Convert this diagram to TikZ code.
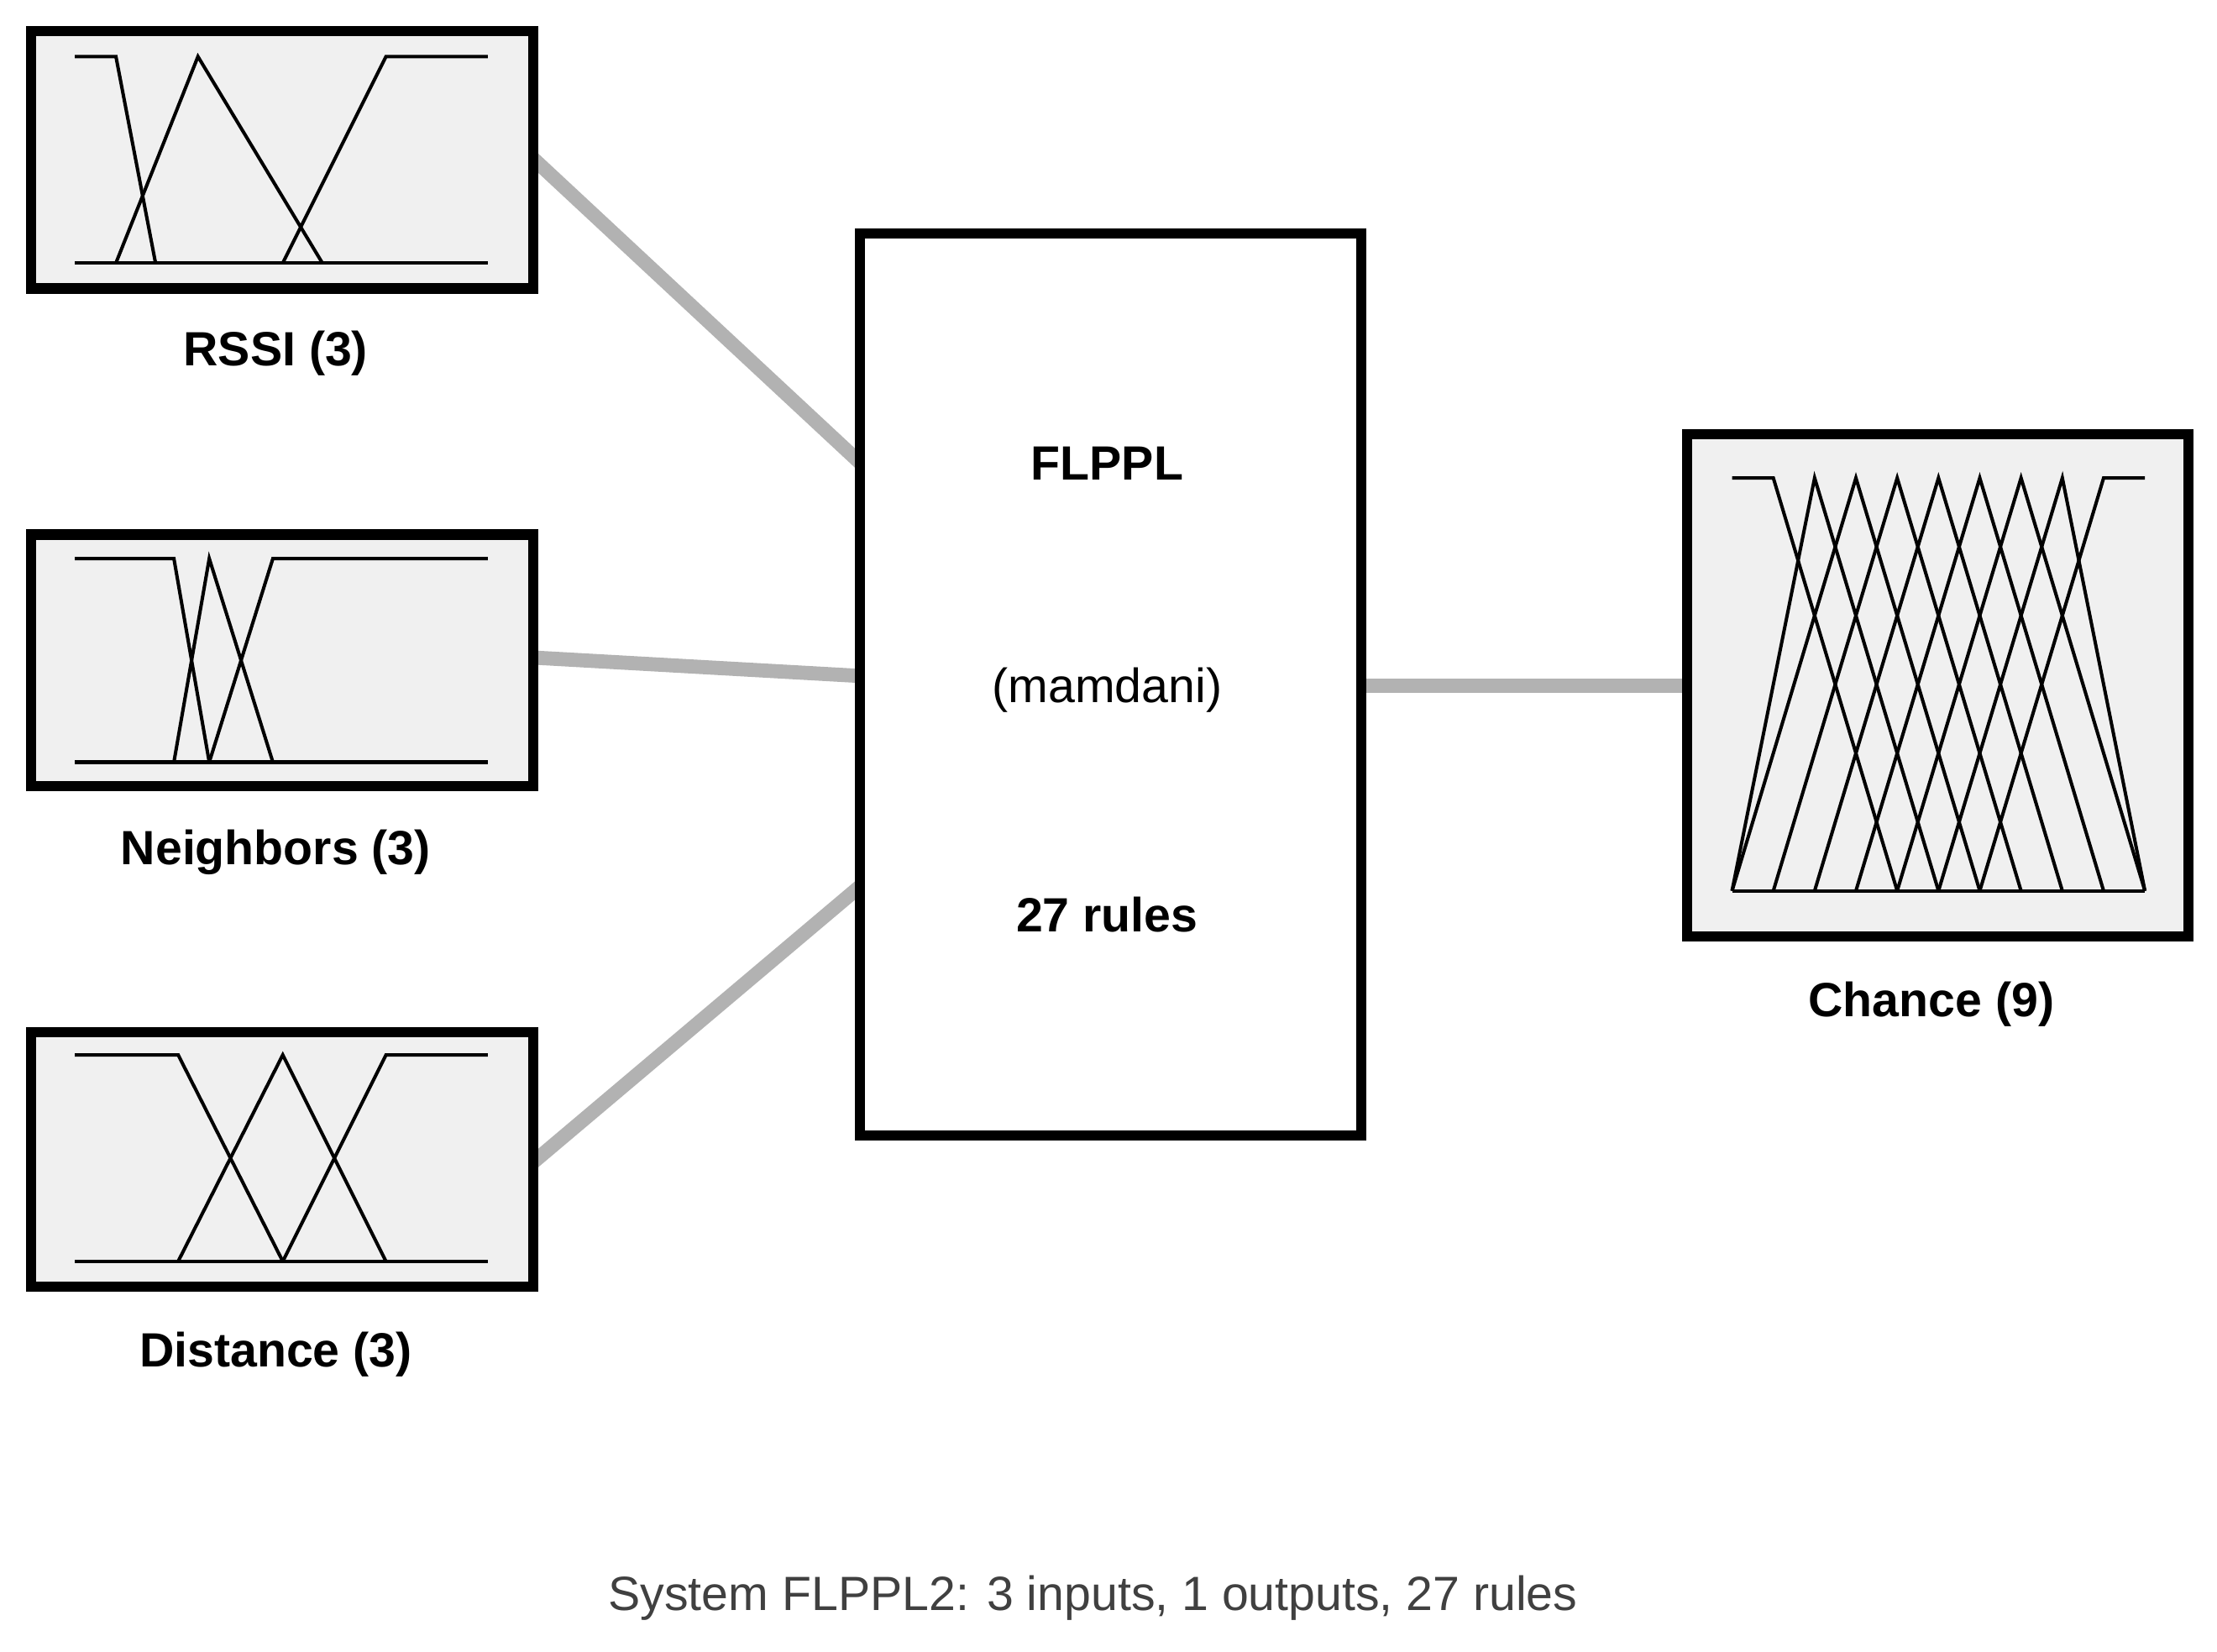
\documentclass[tikz,border=0pt]{standalone}
\usepackage{fontspec}
\setmainfont{Liberation Sans}
\begin{document}
\begin{tikzpicture}[x=0.5pt,y=-0.5pt,
  mfbox/.style={draw=black,line width=3.6pt,fill=black!6},
  sysbox/.style={draw=black,line width=3.6pt,fill=white},
  conn/.style={draw=black!30,line width=5pt},
  mf/.style={draw=black,line width=1.2pt,line join=miter},
  lab/.style={font=\fontsize{17}{20}\selectfont\bfseries},
]
\useasboundingbox (0,0) rectangle (1568,1168);
\fill[white] (0,0) rectangle (1568,1168);
% connectors
\coordinate (r) at (377,112); \coordinate (n) at (377,465); \coordinate (d) at (377,822);
\coordinate (s1) at (608,327); \coordinate (s2) at (608,478); \coordinate (s3) at (608,627);
\coordinate (so) at (963,485); \coordinate (c) at (1193,485);
\draw[conn] (r) -- (s1);
\draw[conn] (n) -- (s2);
\draw[conn] (d) -- (s3);
\draw[conn] (so) -- (c);
% boxes
\draw[mfbox] (22,22) rectangle (377,204);
\draw[mfbox] (22,378) rectangle (377,556);
\draw[mfbox] (22,730) rectangle (377,910);
\draw[sysbox] (608,165) rectangle (963,803);
\draw[mfbox] (1193,307) rectangle (1548,662);
% RSSI MFs
\draw[mf] (53,186) -- (345,186);
\draw[mf] (53,40) -- (82,40) -- (110,186);
\draw[mf] (82,186) -- (140,40) -- (228,186);
\draw[mf] (200,186) -- (273,40) -- (345,40);
% Neighbors MFs
\draw[mf] (53,539) -- (345,539);
\draw[mf] (53,395) -- (123,395) -- (148,539);
\draw[mf] (123,539) -- (148,395) -- (193,539);
\draw[mf] (148,539) -- (193,395) -- (345,395);
% Distance MFs
\draw[mf] (53,892) -- (345,892);
\draw[mf] (53,746) -- (126,746) -- (200,892);
\draw[mf] (126,892) -- (200,746) -- (273,892);
\draw[mf] (200,892) -- (273,746) -- (345,746);
% Chance MFs
\def\T{338}\def\B{630}
\newcommand{\gx}[1]{\fpeval{1225+29.2*#1}}
\draw[mf] (1225,\B) -- (1517,\B);
\draw[mf] (\gx{0},\T) -- (\gx{1},\T) -- (\gx{4},\B);
\draw[mf] (\gx{0},\B) -- (\gx{2},\T) -- (\gx{5},\B);
\draw[mf] (\gx{0},\B) -- (\gx{3},\T) -- (\gx{6},\B);
\draw[mf] (\gx{1},\B) -- (\gx{4},\T) -- (\gx{7},\B);
\draw[mf] (\gx{2},\B) -- (\gx{5},\T) -- (\gx{8},\B);
\draw[mf] (\gx{3},\B) -- (\gx{6},\T) -- (\gx{9},\B);
\draw[mf] (\gx{4},\B) -- (\gx{7},\T) -- (\gx{10},\B);
\draw[mf] (\gx{5},\B) -- (\gx{8},\T) -- (\gx{10},\B);
\draw[mf] (\gx{6},\B) -- (\gx{9},\T) -- (\gx{10},\T);
% labels
\node[lab] (l1) at (195,250) {RSSI (3)};
\node[lab] (l2) at (195,603) {Neighbors (3)};
\node[lab] (l3) at (195,958) {Distance (3)};
\node[lab] (l4) at (1366,710) {Chance (9)};
\node[lab] (t1) at (783,328) {FLPPL};
\node[font=\fontsize{17}{20}\selectfont] (t2) at (783,488) {(mamdani)};
\node[lab] (t3) at (783,647) {27 rules};
\node[font=\fontsize{17}{20}\selectfont,text=black!75] (cap) at (773,1130) {System FLPPL2: 3 inputs, 1 outputs, 27 rules};
\end{tikzpicture}
\end{document}
